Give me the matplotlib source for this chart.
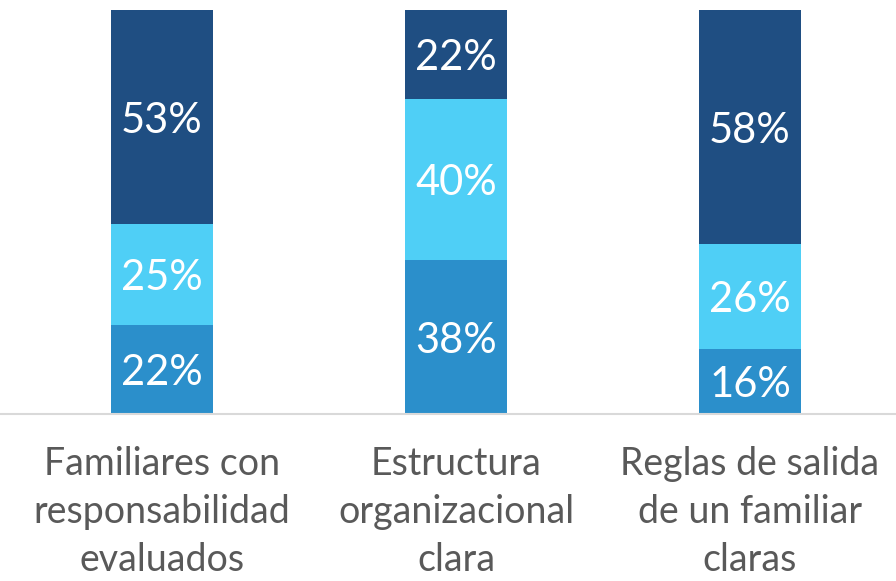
import matplotlib.pyplot as plt
import numpy as np

categories = ['Familiares con\nresponsabilidad\nevaluados',
              'Estructura\norganizacional\nclara',
              'Reglas de salida\nde un familiar\nclaras']
bottom_vals = [22, 38, 16]
middle_vals = [25, 40, 26]
top_vals = [53, 22, 58]

colors = ['#2B8FCB', '#4FCFF6', '#1F4E82']

plt.rcParams['font.family'] = ['Lato', 'DejaVu Sans']

fig = plt.figure(figsize=(8.96, 5.81), dpi=100)
ax = fig.add_axes([0, 1 - 414 / 581, 1, (414 - 10) / 581])

x = np.arange(len(categories))
width = 0.347
base = np.zeros(len(categories))
for vals, c in zip([bottom_vals, middle_vals, top_vals], colors):
    ax.bar(x, vals, width, bottom=base, color=c)
    for xi, b, v in zip(x, base, vals):
        ax.text(xi, b + v / 2, f'{v}%', ha='center', va='center_baseline',
                color='white', fontsize=30)
    base = base + np.array(vals)

ax.set_xlim(-162 / 294, (896 - 162) / 294)
ax.set_ylim(0, 100)
ax.set_yticks([])
ax.set_xticks(x)
ax.set_xticklabels(categories, fontsize=27, color='#595959', linespacing=1.42)
ax.tick_params(axis='x', length=0, pad=23)
for s in ['top', 'right', 'left']:
    ax.spines[s].set_visible(False)
ax.spines['bottom'].set_color('#D9D9D9')
ax.spines['bottom'].set_linewidth(1.5)

fig.savefig('out.png', dpi=100)
